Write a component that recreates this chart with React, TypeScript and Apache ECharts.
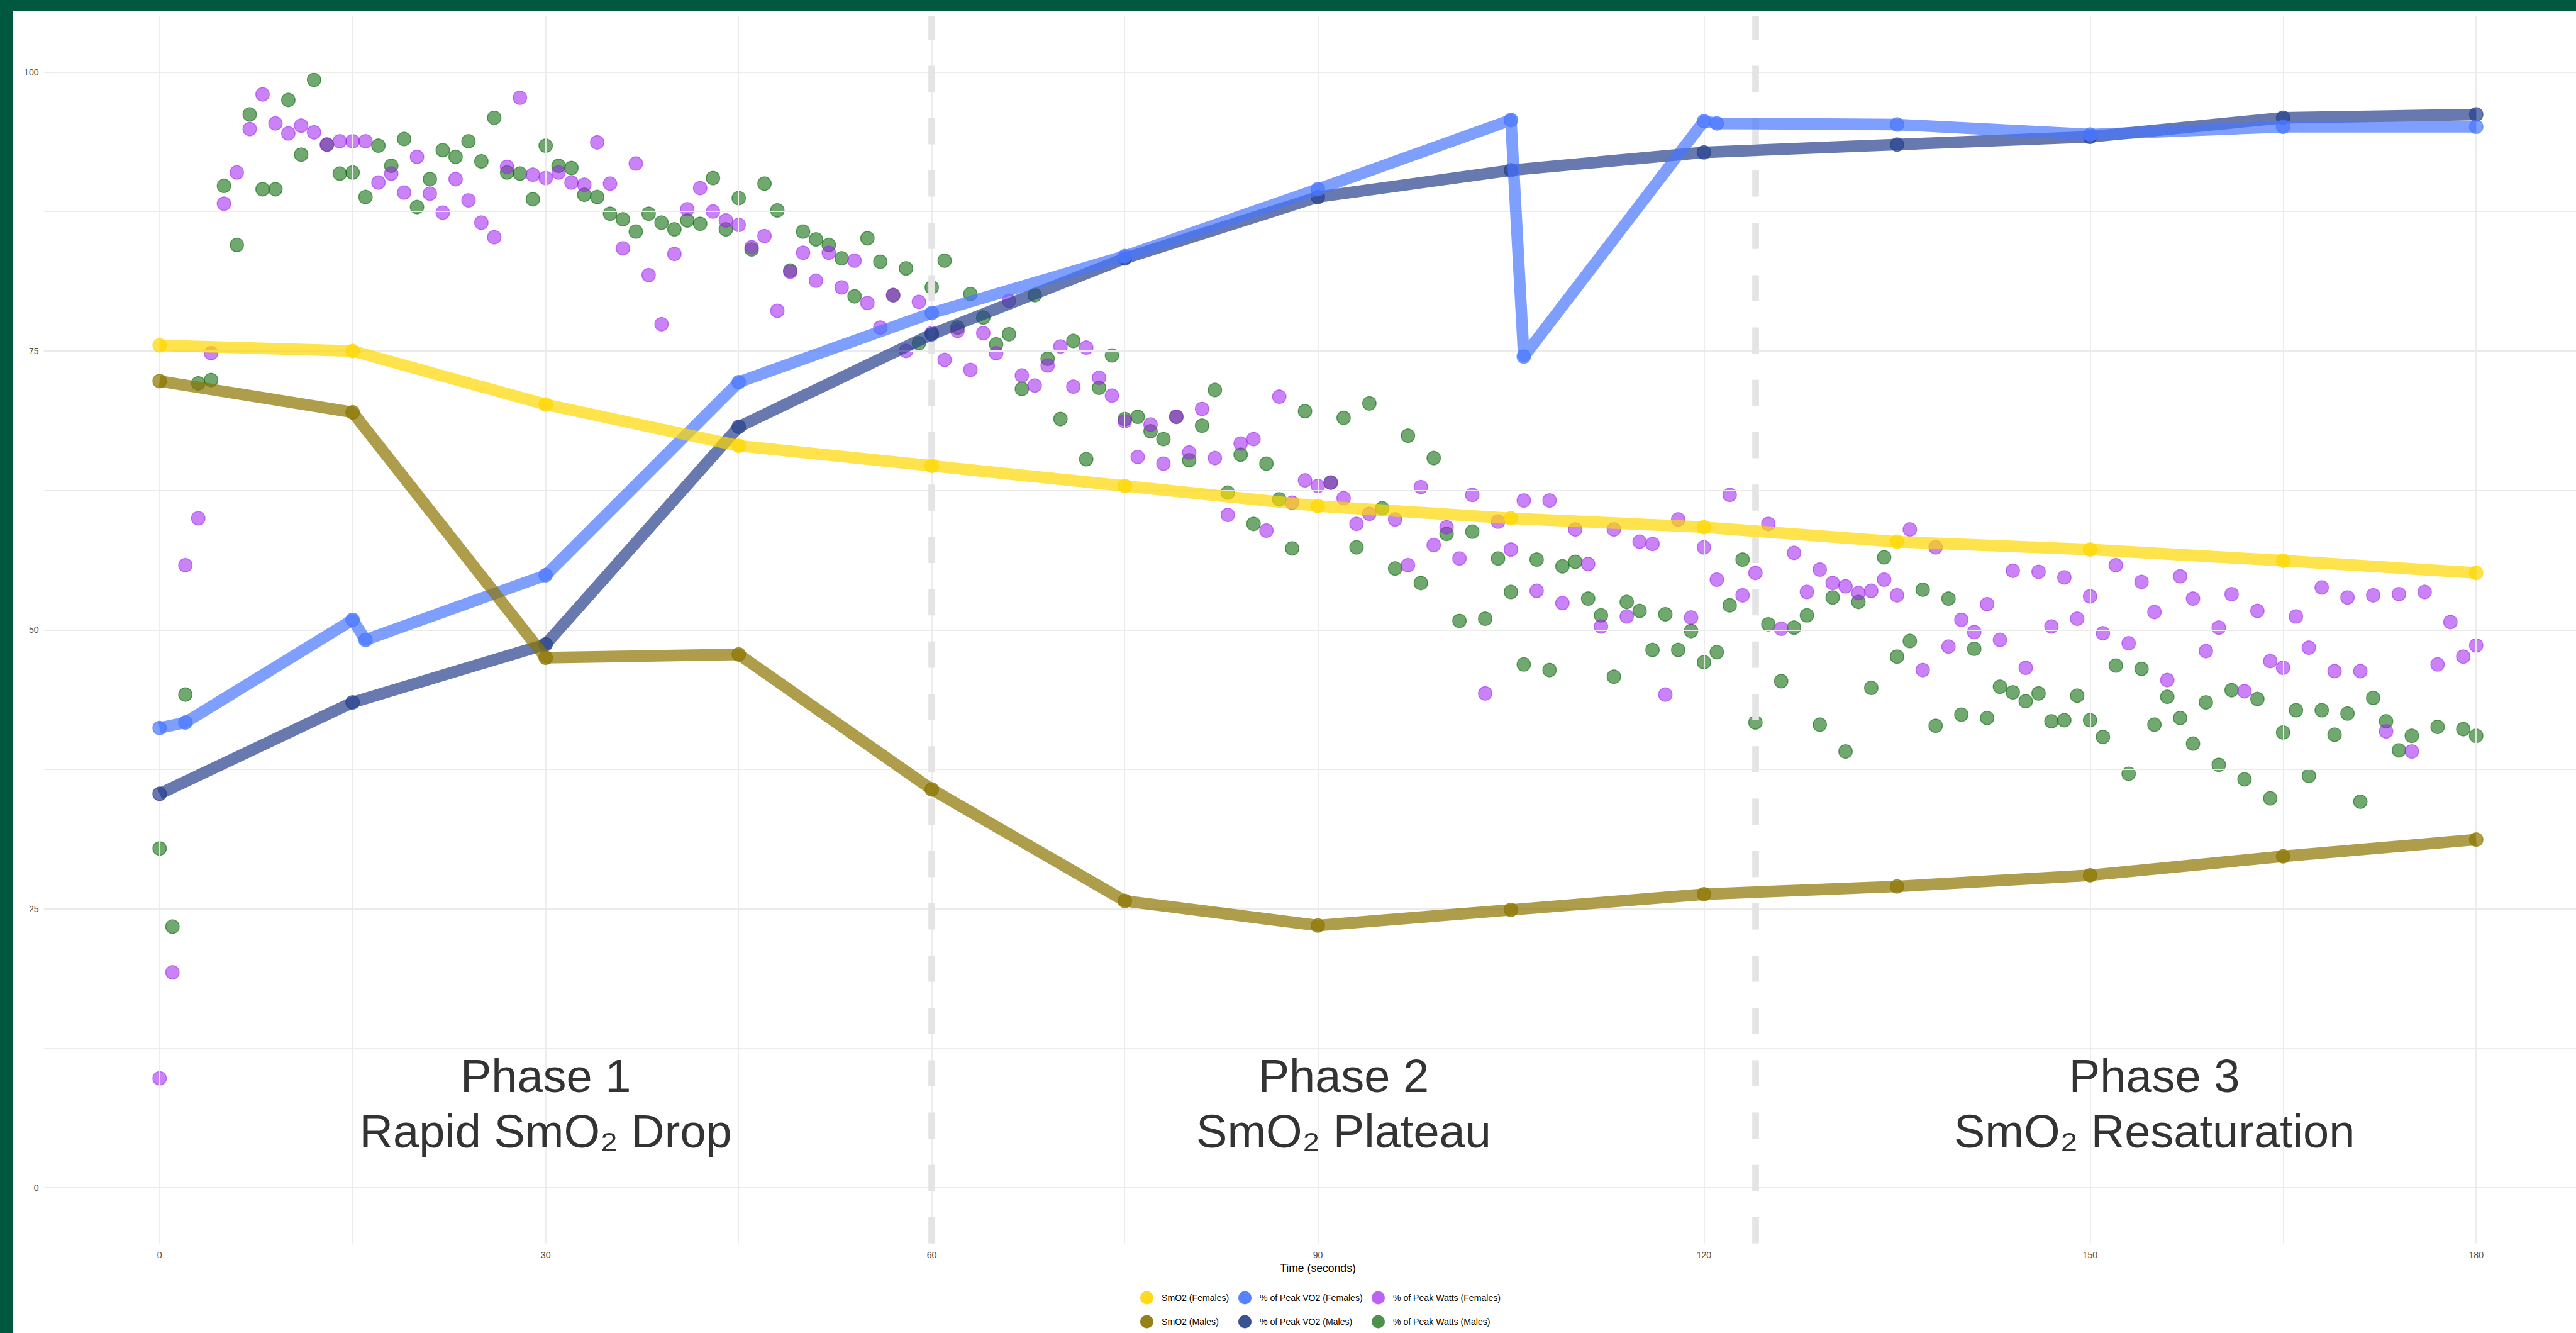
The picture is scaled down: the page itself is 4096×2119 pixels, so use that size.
import React, { useEffect, useRef } from "react";
import * as echarts from "echarts";

const W = 4096;
const H = 2119;
const FONT = "'Liberation Sans', Arial, Helvetica, sans-serif";

// ---- axis ticks ----
const xTicks = [0, 30, 60, 90, 120, 150, 180];
const xMinor = [15, 45, 75, 105, 135, 165];
const yTicks = [0, 25, 50, 75, 100];
const yMinor = [12.5, 37.5, 62.5, 87.5];
const phaseLines = [60, 124];

// ---- phase annotations ----
const phaseX = [30, 92, 155];
const phaseY = [7.5, 7.5, 7.5];
const phaseText = [
  "Phase 1\nRapid SmO\u2082 Drop",
  "Phase 2\nSmO\u2082 Plateau",
  "Phase 3\nSmO\u2082 Resaturation",
];

// ---- line series ----
const smo2Time = [0, 15, 30, 45, 60, 75, 90, 105, 120, 135, 150, 165, 180];
const smo2Female = [75.5, 75.0, 70.2, 66.5, 64.7, 62.9, 61.1, 60.0, 59.2, 57.9, 57.2, 56.2, 55.1];
const smo2Male = [72.3, 69.5, 47.5, 47.8, 35.7, 25.7, 23.5, 24.9, 26.3, 27.0, 28.0, 29.7, 31.2];

const vo2FemaleTime = [0, 2, 15, 16, 30, 45, 60, 75, 90, 105, 106, 120, 121, 135, 150, 165, 180];
const vo2Female = [41.2, 41.7, 50.9, 49.1, 54.9, 72.2, 78.4, 83.5, 89.5, 95.7, 74.5, 95.6, 95.4, 95.3, 94.4, 95.1, 95.1];
const vo2MaleTime = [0, 15, 30, 45, 60, 75, 90, 105, 120, 135, 150, 165, 180];
const vo2Male = [35.3, 43.5, 48.7, 68.2, 76.5, 83.3, 88.8, 91.2, 92.8, 93.5, 94.2, 95.9, 96.2];

// ---- scatter: % of peak watts (females) ----
const wattsFemaleTime = [
  0, 1, 2, 3, 4, 5, 6, 7, 8, 9, 10, 11, 12, 13, 14, 15, 16, 17, 18, 19,
  20, 21, 22, 23, 24, 25, 26, 27, 28, 29, 30, 31, 32, 33, 34, 35, 36, 37, 38, 39,
  40, 41, 42, 43, 44, 45, 46, 47, 48, 49, 50, 51, 52, 53, 54, 55, 56, 57, 58, 59,
  60, 61, 62, 63, 64, 65, 66, 67, 68, 69, 70, 71, 72, 73, 74, 75, 76, 77, 78, 79,
  80, 81, 82, 83, 84, 85, 86, 87, 88, 89, 90, 91, 92, 93, 94, 96, 97, 98, 99,
  100, 101, 102, 103, 104, 105, 106, 107, 108, 109, 110, 111, 112, 113, 114, 115, 116, 117, 118, 119,
  120, 121, 122, 123, 124, 125, 126, 127, 128, 129, 130, 131, 132, 133, 134, 135, 136, 137, 138, 139,
  140, 141, 142, 143, 144, 145, 146, 147, 148, 149, 150, 151, 152, 153, 154, 155, 156, 157, 158, 159,
  160, 161, 162, 163, 164, 165, 166, 167, 168, 169, 170, 171, 172, 173, 174, 175, 176, 177, 178, 179, 180,
];
const wattsFemale = [
  9.8, 19.3, 55.8, 60.0, 74.8, 88.2, 91.0, 94.9, 98.0, 95.4,
  94.5, 95.2, 94.6, 93.5, 93.8, 93.8, 93.8, 90.1, 90.9, 89.2,
  92.4, 89.1, 87.4, 90.4, 88.5, 86.5, 85.2, 91.5, 97.7, 90.8,
  90.5, 91.0, 90.1, 89.9, 93.7, 90.0, 84.2, 91.8, 81.8, 77.4,
  83.7, 87.7, 89.6, 87.5, 86.7, 86.3, 84.3, 85.3, 78.6, 82.1,
  83.8, 81.3, 83.8, 80.7, 83.1, 79.3, 77.1, 80.0, 75.0, 79.4,
  76.6, 74.2, 76.8, 73.3, 76.6, 74.8, 79.5, 72.8, 71.9, 73.7,
  75.4, 71.8, 75.3, 72.6, 71.0, 68.7, 65.5, 68.4, 64.9, 69.1,
  65.9, 69.8, 65.4, 60.3, 66.7, 67.1, 58.9, 70.9, 61.4, 63.4,
  62.9, 63.2, 61.8, 59.5, 60.4, 59.9, 55.8, 62.8, 57.6,
  59.2, 56.4, 62.1, 44.3, 59.7, 57.2, 61.6, 53.5, 61.6, 52.4,
  59.0, 55.9, 50.3, 59.0, 51.2, 57.9, 57.7, 44.2, 59.9, 51.1,
  57.4, 54.5, 62.1, 53.1, 55.1, 59.5, 50.1, 56.9, 53.4, 55.4,
  54.2, 53.9, 53.3, 53.5, 54.5, 53.1, 59.0, 46.4, 57.4, 48.5,
  50.9, 49.8, 52.3, 49.1, 55.3, 46.6, 55.2, 50.3, 54.7, 51.0,
  53.0, 49.7, 55.8, 48.8, 54.3, 51.6, 45.5, 54.8, 52.8, 48.1,
  50.2, 53.2, 44.5, 51.7, 47.2, 46.6, 51.2, 48.4, 53.8, 46.3,
  52.9, 46.3, 53.1, 40.9, 53.2, 39.1, 53.4, 46.9, 50.7, 47.6, 48.6,
];

// ---- scatter: % of peak watts (males) ----
const wattsMaleTime = [
  0, 1, 2, 3, 4, 5, 6, 7, 8, 9, 10, 11, 12, 13, 14, 15, 16, 17, 18, 19,
  20, 21, 22, 23, 24, 25, 26, 27, 28, 29, 30, 31, 32, 33, 34, 35, 36, 37, 38, 39,
  40, 41, 42, 43, 44, 45, 46, 47, 48, 49, 50, 51, 52, 53, 54, 55, 56, 57, 58, 59,
  60, 61, 62, 63, 64, 65, 66, 67, 68, 69, 70, 71, 72, 73, 74, 75, 76, 77, 78, 79,
  80, 81, 82, 83, 84, 85, 86, 87, 88, 89, 91, 92, 93, 94, 95, 96, 97, 98, 99,
  100, 101, 102, 103, 104, 105, 106, 107, 108, 109, 110, 111, 112, 113, 114, 115, 116, 117, 118, 119,
  120, 121, 122, 123, 124, 125, 126, 127, 128, 129, 130, 131, 132, 133, 134, 135, 136, 137, 138, 139,
  140, 141, 142, 143, 144, 145, 146, 147, 148, 149, 150, 151, 152, 153, 154, 155, 156, 157, 158, 159,
  160, 161, 162, 163, 164, 165, 166, 167, 168, 169, 170, 171, 172, 173, 174, 175, 177, 179, 180,
];
const wattsMale = [
  30.4, 23.4, 44.2, 72.1, 72.4, 89.8, 84.5, 96.2, 89.5, 89.5,
  97.5, 92.6, 99.3, 93.5, 90.9, 91.0, 88.8, 93.4, 91.6, 94.0,
  87.9, 90.4, 93.0, 92.4, 93.8, 92.0, 95.9, 91.0, 90.9, 88.6,
  93.4, 91.6, 91.4, 89.0, 88.8, 87.3, 86.8, 85.7, 87.3, 86.5,
  85.9, 86.7, 86.4, 90.5, 85.9, 88.7, 84.1, 90.0, 87.6, 82.2,
  85.7, 85.0, 84.5, 83.3, 79.9, 85.1, 83.0, 80.0, 82.4, 75.7,
  80.7, 83.1, 77.1, 80.1, 78.0, 75.6, 76.5, 71.6, 80.0, 74.3,
  68.9, 75.9, 65.3, 71.7, 74.6, 68.9, 69.1, 67.8, 67.1, 69.1,
  65.2, 68.3, 71.5, 62.3, 65.7, 59.5, 64.9, 61.7, 57.3, 69.6,
  63.2, 69.0, 57.4, 70.3, 60.9, 55.5, 67.4, 54.2, 65.4,
  58.6, 50.8, 58.8, 51.0, 56.4, 53.4, 46.9, 56.3, 46.4, 55.7,
  56.1, 52.8, 51.3, 45.8, 52.5, 51.7, 48.2, 51.4, 48.2, 49.9,
  47.1, 48.0, 52.2, 56.3, 41.7, 50.5, 45.4, 50.2, 51.3, 41.5,
  52.9, 39.1, 52.5, 44.8, 56.5, 47.6, 49.0, 53.6, 41.4, 52.8,
  42.4, 48.3, 42.1, 44.9, 44.4, 43.6, 44.3, 41.8, 41.9, 44.1,
  41.9, 40.4, 46.8, 37.1, 46.5, 41.5, 44.0, 42.1, 39.8, 43.5,
  37.9, 44.6, 36.6, 43.8, 34.9, 40.8, 42.8, 36.9, 42.8, 40.6,
  42.5, 34.6, 43.9, 41.8, 39.2, 40.5, 41.3, 41.1, 40.5,
];

// ---- names & colours ----
const names = {
  smoF: "SmO2 (Females)",
  vo2F: "% of Peak VO2 (Females)",
  wF: "% of Peak Watts (Females)",
  smoM: "SmO2 (Males)",
  vo2M: "% of Peak VO2 (Males)",
  wM: "% of Peak Watts (Males)",
};
const colors = {
  smoF: "rgba(255,215,0,0.7)",
  smoM: "rgba(139,117,0,0.7)",
  vo2F: "rgba(72,118,255,0.7)",
  vo2M: "rgba(39,64,139,0.7)",
  wF: "rgba(160,32,240,0.7)",
  wM: "rgba(0,100,0,0.7)",
};
const keyColors = {
  smoF: "#FFD91A",
  smoM: "#968117",
  vo2F: "#5582FF",
  vo2M: "#3A5295",
  wF: "#BC62F4",
  wM: "#4C924C",
};

const pairs = (ts: number[], vs: number[]) => ts.map((t, i) => [t, vs[i]]);

const LINE_W = 18.5;
const SYM = 21.5;

function lineSeries(key: string, ts: number[], vs: number[], z: number) {
  const c = (colors as any)[key];
  return {
    type: "line",
    name: (names as any)[key],
    data: pairs(ts, vs),
    symbol: "circle",
    symbolSize: SYM,
    showSymbol: true,
    showAllSymbol: true,
    z,
    lineStyle: { color: c, width: LINE_W, cap: "butt", join: "round" },
    itemStyle: { color: c, borderColor: c, borderWidth: 1.5 },
    emphasis: { disabled: true },
  };
}

function scatterSeries(key: string, ts: number[], vs: number[], z: number) {
  const c = (colors as any)[key];
  return {
    type: "scatter",
    name: (names as any)[key],
    data: pairs(ts, vs),
    symbol: "circle",
    symbolSize: SYM,
    z,
    itemStyle: { color: c, borderColor: c, borderWidth: 1.5 },
    emphasis: { disabled: true },
  };
}

function legendCol(left: number, keys: string[]) {
  return {
    orient: "vertical",
    left,
    top: 2052.5,
    padding: 0,
    height: 66,
    itemWidth: 21,
    itemHeight: 21,
    itemGap: 17,
    selectedMode: false,
    textStyle: { color: "#000", fontSize: 14.1, fontFamily: FONT, padding: [0, 0, 0, 8] },
    data: keys.map((k) => ({
      name: (names as any)[k],
      icon: "circle",
      itemStyle: { color: (keyColors as any)[k], borderWidth: 0, opacity: 1 },
    })),
  };
}

function gridMarks(xs: number[], ys: number[], width: number, z: number) {
  return {
    type: "line",
    data: [],
    silent: true,
    z,
    markLine: {
      silent: true,
      symbol: ["none", "none"],
      label: { show: false },
      emphasis: { disabled: true },
      lineStyle: { color: "#EBEBEB", width, type: "solid" },
      data: [...xs.map((v) => ({ xAxis: v })), ...ys.map((v) => ({ yAxis: v }))],
    },
  };
}

export default function App() {
  const ref = useRef<HTMLDivElement>(null);
  useEffect(() => {
    document.body.style.margin = "0";
    const chart = echarts.init(ref.current!, undefined, { renderer: "svg", width: W, height: H });
    const option: any = {
      animation: false,
      backgroundColor: "#FFFFFF",
      grid: {
        left: 69.6,
        top: 25.9,
        width: 4051.8,
        height: 1950.7,
        containLabel: false,
        outerBoundsMode: "none",
      },
      xAxis: {
        type: "value",
        min: -9,
        max: 189,
        axisLine: { show: false },
        axisTick: { show: false },
        splitLine: { show: false },
        axisLabel: {
          customValues: xTicks,
          color: "#4D4D4D",
          fontSize: 14.1,
          margin: 11,
          fontFamily: FONT,
        },
        name: "Time (seconds)",
        nameLocation: "middle",
        nameGap: 28,
        nameTextStyle: { color: "#000", fontSize: 17.6, fontFamily: FONT },
      },
      yAxis: {
        type: "value",
        min: -5,
        max: 105,
        axisLine: { show: false },
        axisTick: { show: false },
        splitLine: { show: false },
        axisLabel: {
          customValues: yTicks,
          color: "#4D4D4D",
          fontSize: 14.1,
          margin: 8,
          fontFamily: FONT,
        },
      },
      legend: [
        legendCol(1813, ["smoF", "smoM"]),
        legendCol(1969, ["vo2F", "vo2M"]),
        legendCol(2181, ["wF", "wM"]),
      ],
      graphic: [
        { type: "rect", z: 100, shape: { x: 0, y: 0, width: W, height: 17 }, style: { fill: "#00583F" } },
        { type: "rect", z: 100, shape: { x: 0, y: 0, width: 21, height: H }, style: { fill: "#00583F" } },
      ],
      series: [
        gridMarks(xMinor, yMinor, 1.0, 0),
        gridMarks(xTicks, yTicks, 1.8, 0),
        {
          type: "line",
          data: [],
          silent: true,
          z: 1,
          markLine: {
            silent: true,
            symbol: ["none", "none"],
            label: { show: false },
            emphasis: { disabled: true },
            lineStyle: { color: "#E4E4E4", width: 10.7, type: [41.6, 41.6], dashOffset: 0 },
            data: phaseLines.map((v) => ({ xAxis: v })),
          },
        },
        scatterSeries("wM", wattsMaleTime, wattsMale, 3),
        scatterSeries("wF", wattsFemaleTime, wattsFemale, 4),
        lineSeries("vo2M", vo2MaleTime, vo2Male, 5),
        lineSeries("vo2F", vo2FemaleTime, vo2Female, 6),
        lineSeries("smoM", smo2Time, smo2Male, 7),
        lineSeries("smoF", smo2Time, smo2Female, 8),
        {
          type: "scatter",
          silent: true,
          z: 20,
          symbol: "circle",
          symbolSize: 1,
          itemStyle: { color: "rgba(0,0,0,0)" },
          data: phaseX.map((x, i) => ({ value: [x, phaseY[i]], name: phaseText[i] })),
          label: {
            show: true,
            position: "inside",
            formatter: "{b}",
            color: "#000",
            fontSize: 74,
            lineHeight: 88,
            fontFamily: FONT,
            align: "center",
            verticalAlign: "middle",
          },
        },
      ],
    };
    chart.setOption(option);
    return () => chart.dispose();
  }, []);
  return <div ref={ref} style={{ position: "fixed", left: 0, top: 0, width: W, height: H }} />;
}
